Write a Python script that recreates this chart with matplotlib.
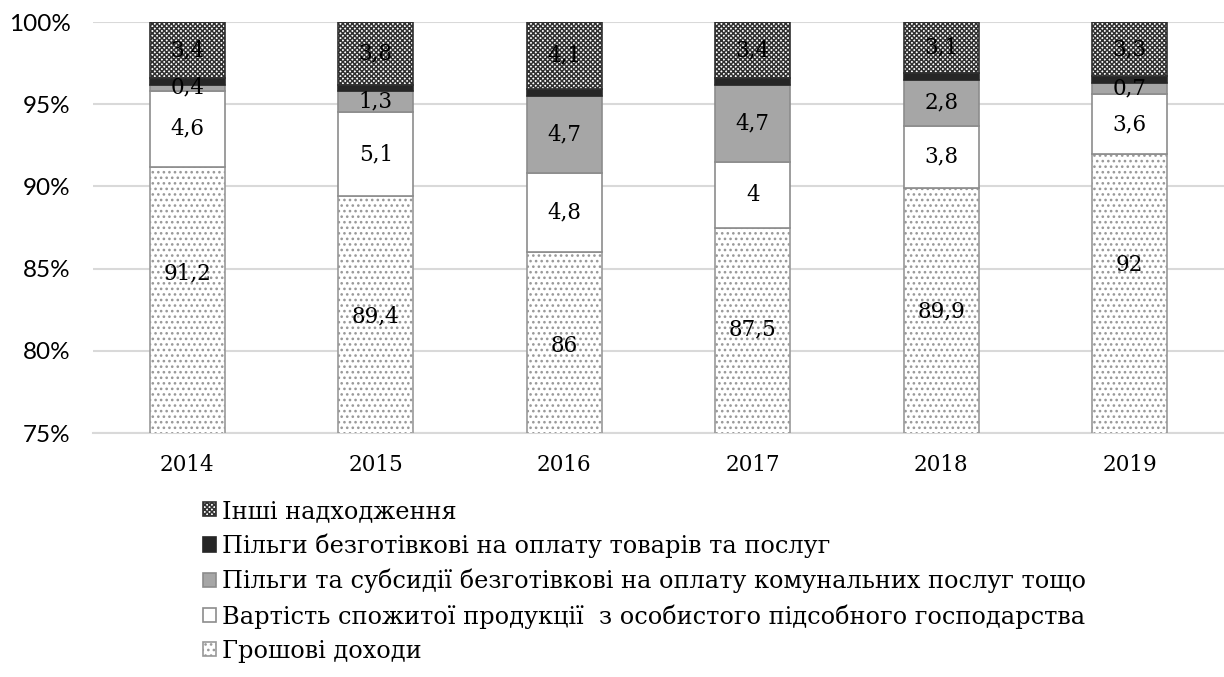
import numpy as np
import matplotlib
matplotlib.use('Agg')
import matplotlib.pyplot as plt

years = ['2014', '2015', '2016', '2017', '2018', '2019']
money = [91.2, 89.4, 86, 87.5, 89.9, 92]
own_farm = [4.6, 5.1, 4.8, 4, 3.8, 3.6]
utilities = [0.4, 1.3, 4.7, 4.7, 2.8, 0.7]
goods = [0.4, 0.4, 0.4, 0.4, 0.4, 0.4]
other = [3.4, 3.8, 4.1, 3.4, 3.1, 3.3]

names = ['Грошові доходи',
         'Вартість спожитої продукції  з особистого підсобного господарства',
         'Пільги та субсидії безготівкові на оплату комунальних послуг тощо',
         'Пільги безготівкові на оплату товарів та послуг',
         'Інші надходження']

# where Excel put the labels of the bottom series (it is cut by the axis)
money_label_y = [84.7, 82.1, 80.3, 81.3, 82.4, 85.2]

plt.rcParams['hatch.linewidth'] = 1.1
serif = ['DejaVu Serif']

fig = plt.figure(figsize=(12.24, 6.77), dpi=100)
ax = fig.add_axes([0.076, 0.3604, 0.924, 0.607])

x = np.arange(len(years))
w = 0.4
edge = '#8c8c8c'
series = [money, own_farm, utilities, goods, other]
styles = [dict(color='white', hatch='...', edgecolor='#999999'),
          dict(color='white', edgecolor=edge),
          dict(color='#a6a6a6', edgecolor=edge),
          dict(color='#262626', edgecolor='#262626'),
          dict(color='white', hatch='xxxxxxx', edgecolor='#303030')]
show_labels = [True, True, True, False, True]

bottom = np.zeros(len(years))
handles = []
for i, (vals, st, lab, nm) in enumerate(zip(series, styles, show_labels, names)):
    vals = np.array(vals, dtype=float)
    b = ax.bar(x, vals, w, bottom=bottom, facecolor=st['color'],
               edgecolor=st['edgecolor'], hatch=st.get('hatch'),
               linewidth=1.2, label=nm, zorder=3)
    handles.append(b)
    if lab:
        for j, (xi, bo, v) in enumerate(zip(x, bottom, vals)):
            yy = money_label_y[j] if i == 0 else bo + v / 2
            ax.text(xi, yy, f'{v:g}'.replace('.', ','), ha='center', va='center',
                    fontsize=15.5, family=serif, color='black', zorder=5)
    bottom += vals

ax.set_ylim(75, 100)
ax.set_xlim(-0.5, len(years) - 0.5)
ax.set_yticks(np.arange(75, 101, 5))
ax.set_yticklabels([f'{t}%' for t in range(75, 101, 5)], fontsize=17.5, family='Lato')
ax.set_xticks(x)
ax.set_xticklabels(years, fontsize=15.5, family=serif)
ax.grid(axis='y', color='#d9d9d9', linewidth=1.5, zorder=0)
for s in ['left', 'right', 'top']:
    ax.spines[s].set_visible(False)
ax.spines['bottom'].set_color('#d9d9d9')
ax.spines['bottom'].set_linewidth(1.5)
ax.tick_params(axis='y', length=0, pad=16)
ax.tick_params(axis='x', length=0, pad=15)

leg = fig.legend(handles[::-1], names[::-1], loc='upper left',
                 bbox_to_anchor=(0.158, 0.276), frameon=False,
                 prop={'family': serif, 'size': 17.3}, handlelength=0.55,
                 handleheight=0.55, handletextpad=0.25, labelspacing=0.45,
                 borderaxespad=0)

fig.savefig('out.png', dpi=100)
